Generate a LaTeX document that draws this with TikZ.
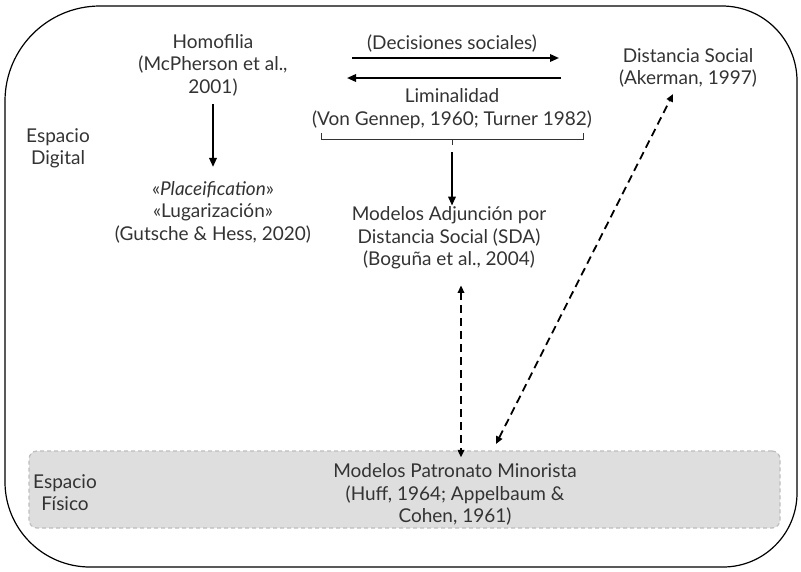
\documentclass[tikz,border=0pt]{standalone}
\usepackage{fontspec}
\setmainfont{Lato}
\usetikzlibrary{arrows.meta}
\definecolor{txtgray}{HTML}{333333}
\definecolor{boxfill}{HTML}{DEDEDE}
\definecolor{boxline}{HTML}{BDBDBD}

\begin{document}
\begin{tikzpicture}[x=1pt, y=-1pt,
  lbl/.style={align=center, text=txtgray, font=\fontsize{19}{22.5}\selectfont, inner sep=2pt},
  arr/.style={-{Triangle[length=9pt,width=7.5pt]}, line width=1.9pt},
  darr/.style={{Triangle[length=7.5pt,width=6.5pt]}-{Triangle[length=7.5pt,width=6.5pt]}, line width=1.8pt, dash pattern=on 8pt off 5pt},
]
  \useasboundingbox (0,0) rectangle (801,571);

  % ----- Outer frame -----
  \draw[line width=1.2pt] (5,101) arc[start angle=180, end angle=270, radius=95]
    -- (722,6) arc[start angle=270, end angle=360, radius=75]
    -- (797,493) arc[start angle=0, end angle=90, radius=74]
    -- (90,567) arc[start angle=90, end angle=180, radius=85] -- cycle;

  % ----- Physical space band -----
  \node[draw=boxline, fill=boxfill, line width=1.2pt, dash pattern=on 4pt off 3pt,
        rounded corners=8pt, minimum width=751pt, minimum height=77pt] (fisico) at (404.5,489.5) {};
  \node[lbl] (espF) at (65,492.5) {Espacio\\Físico};
  \node[lbl] (retail) at (455,494.5) {Modelos Patronato Minorista\\(Huff, 1964; Appelbaum \&\\Cohen, 1961)};

  % ----- Digital space -----
  \node[lbl] (espD) at (58,148.5) {Espacio\\Digital};
  \node[lbl] (homo) at (213,65) {Homofilia\\(McPherson et al.,\\2001)};
  \node[lbl] (place) at (213,212) {«\textit{Placeification}»\\«Lugarización»\\(Gutsche \& Hess, 2020)};
  \node[lbl] (dec) at (452,44) {(Decisiones sociales)};
  \node[lbl] (limin) at (452,108.5) {Liminalidad\\(Von Gennep, 1960; Turner 1982)};
  \node[lbl] (sda) at (449,238) {Modelos Adjunción por\\Distancia Social (SDA)\\(Boguña et al., 2004)};
  \node[lbl] (akr) at (688,68) {Distancia Social\\(Akerman, 1997)};

  % ----- Connectors -----
  \coordinate (decL) at (352,58);
  \coordinate (decR) at (559,58);
  \coordinate (limL) at (347,78);
  \coordinate (limR) at (561,78);
  \draw[arr] (decL) -- (decR);
  \draw[arr] (limR) -- (limL);

  % bracket under Liminalidad
  \draw[txtgray, line width=0.8pt] (321,133) -- (321,139) -- (583,139) -- (583,133);
  \draw[txtgray, line width=0.8pt] (452,139) -- (452,145) coordinate (brTip);

  \draw[arr, shorten <=6pt, shorten >=12pt] (homo) -- (place);
  \draw[arr, shorten <=7pt] (brTip) -- ([yshift=-1pt]brTip |- sda.north);

  \coordinate (akTip) at (673,94);
  \coordinate (rtTip) at (496,444);
  \draw[darr, shorten <=14pt] ([xshift=12pt]sda.south) -- ([xshift=12pt,yshift=-7pt]sda.south |- fisico.north);
  \draw[darr] (rtTip) -- (akTip);
\end{tikzpicture}
\end{document}
